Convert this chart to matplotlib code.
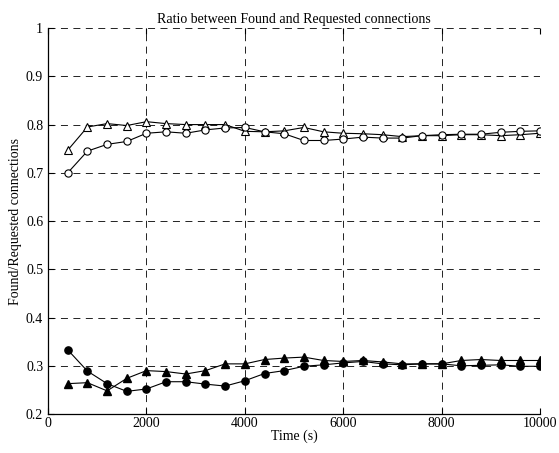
import matplotlib
matplotlib.use("Agg")
import matplotlib.pyplot as plt
import numpy as np

time_s = list(range(400, 10001, 400))
open_tri = [0.747, 0.795, 0.802, 0.798, 0.806, 0.802, 0.800, 0.800, 0.800, 0.786,
            0.785, 0.787, 0.794, 0.785, 0.782, 0.781, 0.779, 0.775, 0.777, 0.777,
            0.779, 0.779, 0.777, 0.779, 0.782]
open_circ = [0.700, 0.745, 0.759, 0.765, 0.782, 0.785, 0.782, 0.789, 0.793, 0.794,
             0.785, 0.781, 0.767, 0.767, 0.770, 0.774, 0.772, 0.772, 0.777, 0.779,
             0.780, 0.780, 0.784, 0.786, 0.787]
fill_circ = [0.333, 0.289, 0.263, 0.247, 0.252, 0.267, 0.267, 0.262, 0.258, 0.269,
             0.284, 0.290, 0.299, 0.302, 0.306, 0.309, 0.304, 0.302, 0.304, 0.304,
             0.300, 0.301, 0.302, 0.299, 0.299]
fill_tri = [0.263, 0.265, 0.248, 0.274, 0.290, 0.288, 0.283, 0.290, 0.304, 0.304,
            0.313, 0.316, 0.318, 0.311, 0.309, 0.311, 0.308, 0.304, 0.304, 0.304,
            0.311, 0.313, 0.311, 0.311, 0.311]
xticks = [0, 2000, 4000, 6000, 8000, 10000]
yticks = [0.2, 0.3, 0.4, 0.5, 0.6, 0.7, 0.8, 0.9, 1.0]
ytick_labels = ["0.2", "0.3", "0.4", "0.5", "0.6", "0.7", "0.8", "0.9", "1"]

plt.rcParams['font.family'] = ['Liberation Serif', 'DejaVu Serif']
fig = plt.figure(figsize=(5.59, 4.53), dpi=100)
ax = fig.add_axes([0.086, 0.086, 0.880, 0.852])

ms = 5.2
ax.plot(time_s, open_tri, '-^', color='black', lw=0.8, ms=ms, mfc='white', mec='black', mew=0.8, zorder=3)
ax.plot(time_s, open_circ, '-o', color='black', lw=0.8, ms=ms, mfc='white', mec='black', mew=0.8, zorder=3)
ax.plot(time_s, fill_circ, '-o', color='black', lw=0.8, ms=ms, mfc='black', mec='black', zorder=3)
ax.plot(time_s, fill_tri, '-^', color='black', lw=0.8, ms=ms, mfc='black', mec='black', zorder=3)

ax.set_xlim(0, 10000)
ax.set_ylim(0.2, 1.0)
ax.set_xticks(xticks)
ax.set_xticklabels([str(t) for t in xticks])
ax.set_yticks(yticks)
ax.set_yticklabels(ytick_labels)
ax.grid(True, color='#222222', linestyle=(0, (7.2, 5.6)), linewidth=0.7)
ax.tick_params(direction='in', length=4, labelsize=10, width=0.8, top=True)
ax.tick_params(axis='x', pad=2)
for s in ['top', 'right']:
    ax.spines[s].set_visible(False)
for s in ['left', 'bottom']:
    ax.spines[s].set_linewidth(0.9)

ax.set_title("Ratio between Found and Requested connections", fontsize=10, pad=4)
ax.set_xlabel("Time (s)", fontsize=10, labelpad=0)
ax.set_ylabel("Found/Requested connections", fontsize=10, labelpad=3)

fig.savefig("out.png", dpi=100)
